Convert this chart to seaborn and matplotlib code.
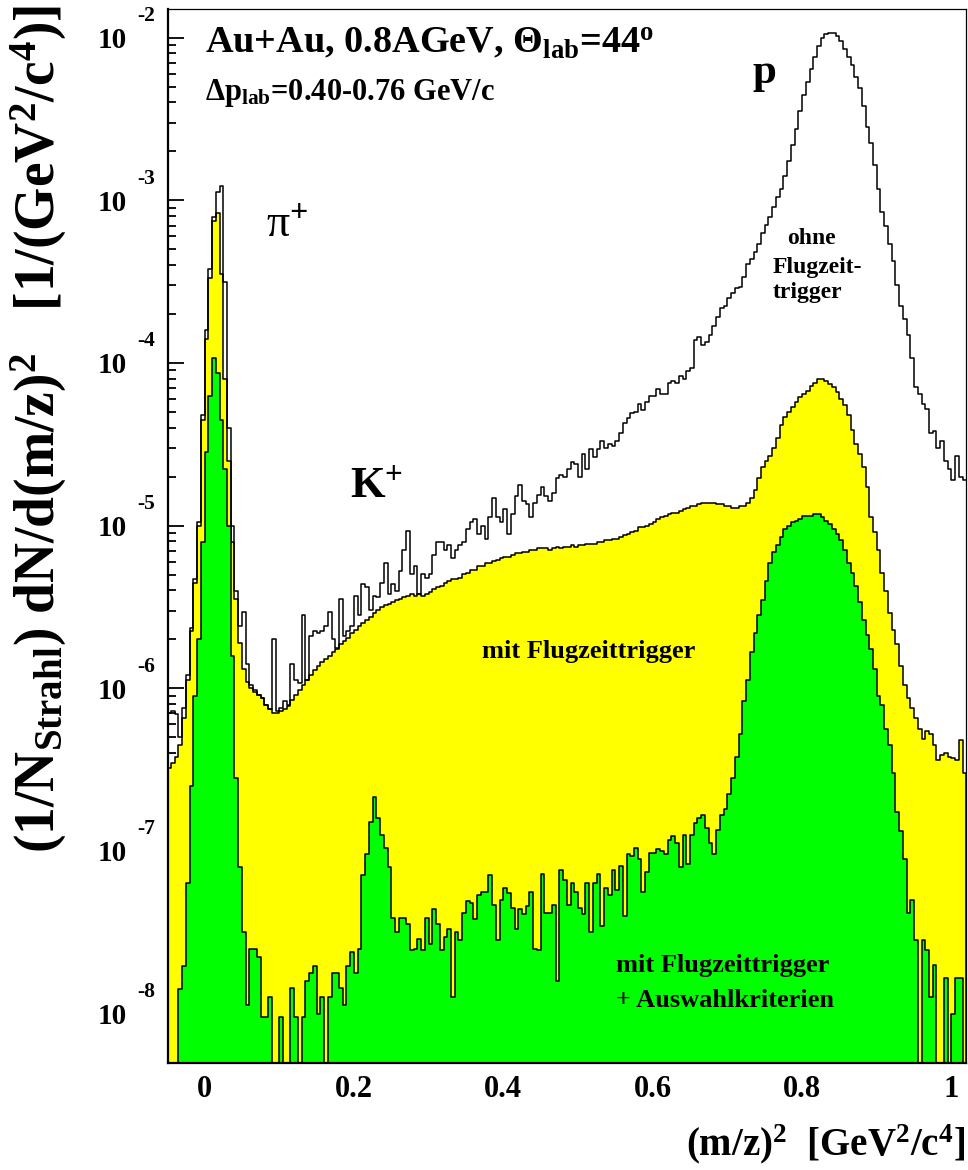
import numpy as np
import pandas as pd
import matplotlib
matplotlib.use("Agg")
import matplotlib.pyplot as plt
import seaborn as sns
from matplotlib.ticker import FixedLocator, FixedFormatter, LogLocator, NullFormatter, MultipleLocator

# ---------------- data (log10 of 1/N dN/d(m/z)^2 per bin) ----------------
bin_width = 0.005
x_first_edge = -0.05

# "ohne Flugzeittrigger" (white, outline only)
log_ohne = [
    -6.15, -6.14, -6.16, -6.30, -6.12, -5.92, -5.63, -5.33, -4.98, -4.32, -3.80, -3.42, -3.10, -2.95, -2.91, -3.50, -4.40,
    -5.00, -5.40, -5.62, -5.53, -5.85, -5.98, -6.01, -6.04, -6.06, -6.10, -6.13, -5.70, -6.14,
    -6.12, -6.08, -6.10, -5.85, -5.95, -5.97, -5.55, -5.95, -5.68, -5.65, -5.66, -5.65, -5.62, -5.53, -5.70, -5.75,
    -5.45, -5.68, -5.65, -5.62, -5.43, -5.55, -5.36, -5.38, -5.52, -5.43, -5.44, -5.35, -5.23, -5.42, -5.36, -5.40, -5.28, -5.15, -5.03, -5.30,
    -5.25, -5.42, -5.30, -5.32, -5.30, -5.18, -5.10, -5.10, -5.15, -5.12, -5.20, -5.15, -5.12, -5.10,
    -5.02, -4.98, -4.96, -5.05, -5.00, -5.08, -4.95, -4.83, -4.95, -4.98, -4.90, -5.05, -4.93, -4.82, -4.75, -4.85, -4.87, -4.95, -4.86, -4.81,
    -4.76, -4.82, -4.85, -4.80, -4.71, -4.69, -4.70, -4.65, -4.61, -4.62, -4.70, -4.56, -4.65, -4.53, -4.58, -4.53, -4.48, -4.52, -4.50, -4.51,
    -4.48, -4.43, -4.37, -4.34, -4.31, -4.30, -4.25, -4.29, -4.24, -4.20, -4.20, -4.16, -4.19, -4.19, -4.12, -4.11, -4.12, -4.08, -4.10, -4.05,
    -4.03, -3.86, -3.84, -3.89, -3.87, -3.83, -3.77, -3.72, -3.66, -3.65, -3.60, -3.57, -3.54, -3.53, -3.47, -3.39, -3.36, -3.32, -3.27, -3.20,
    -3.15, -3.10, -3.04, -2.98, -2.93, -2.85, -2.76, -2.66, -2.56, -2.45, -2.35, -2.27, -2.19, -2.12, -2.05, -2.00, -1.98, -1.97, -1.97, -1.99,
    -2.02, -2.07, -2.12, -2.17, -2.24, -2.31, -2.42, -2.55, -2.65, -2.78, -2.93, -3.07, -3.16, -3.27, -3.37, -3.52, -3.65, -3.73, -3.83, -3.97,
    -4.15, -4.19, -4.25, -4.28, -4.43, -4.42, -4.52, -4.48, -4.60, -4.65, -4.72, -4.57, -4.70, -4.72,
]

# "mit Flugzeittrigger" (yellow)
log_mit = [
    -6.49, -6.46, -6.42, -6.35, -6.18, -5.95, -5.65, -5.35, -5.00, -4.35, -3.85, -3.48, -3.13, -3.08, -3.45, -4.10, -4.60,
    -5.10, -5.45, -5.72, -5.88, -5.96, -6.00, -6.02, -6.04, -6.06, -6.10, -6.13, -6.15, -6.15,
    -6.14, -6.13, -6.11, -6.07, -6.04, -6.01, -5.98, -5.95, -5.92, -5.89, -5.86, -5.84, -5.82, -5.80, -5.78, -5.76,
    -5.73, -5.71, -5.69, -5.66, -5.64, -5.62, -5.60, -5.58, -5.56, -5.54, -5.52, -5.50, -5.49, -5.48, -5.47, -5.46, -5.45, -5.44, -5.43, -5.42,
    -5.43, -5.42, -5.43, -5.42, -5.41, -5.39, -5.38, -5.37, -5.35, -5.34, -5.33, -5.33, -5.32, -5.30,
    -5.29, -5.27, -5.27, -5.25, -5.25, -5.23, -5.23, -5.22, -5.21, -5.20, -5.19, -5.19, -5.18, -5.17, -5.17, -5.16, -5.16, -5.15, -5.15, -5.14,
    -5.14, -5.14, -5.15, -5.14, -5.13, -5.14, -5.13, -5.13, -5.12, -5.13, -5.12, -5.12, -5.11, -5.11, -5.11, -5.10, -5.10, -5.09, -5.09, -5.08,
    -5.08, -5.07, -5.06, -5.05, -5.04, -5.03, -5.01, -5.01, -5.00, -4.99, -4.98, -4.96, -4.95, -4.94, -4.93, -4.92, -4.92, -4.91, -4.90, -4.89,
    -4.88, -4.88, -4.87, -4.86, -4.86, -4.86, -4.86, -4.87, -4.87, -4.88, -4.88, -4.89, -4.89, -4.88, -4.88, -4.86, -4.83, -4.78, -4.71, -4.64,
    -4.60, -4.57, -4.52, -4.46, -4.38, -4.33, -4.30, -4.27, -4.24, -4.21, -4.19, -4.17, -4.14, -4.12, -4.10, -4.10, -4.11, -4.13, -4.15, -4.18,
    -4.22, -4.26, -4.32, -4.41, -4.50, -4.56, -4.64, -4.76, -4.95, -5.04, -5.15, -5.29, -5.40, -5.54, -5.64, -5.73, -5.86, -5.98, -6.06, -6.12,
    -6.18, -6.25, -6.31, -6.26, -6.28, -6.35, -6.44, -6.41, -6.40, -6.42, -6.43, -6.44, -6.32, -6.52,
]

# "mit Flugzeittrigger + Auswahlkriterien" (green); -9 = empty bin
log_auswahl = [
    -9.0, -9.0, -9.0, -7.85, -7.71, -7.20, -6.60, -6.05, -5.70, -5.10, -4.55, -4.20, -3.97, -4.06, -4.35, -4.65, -5.00, -5.80, -6.55, -7.10, -7.50,
    -7.95, -7.60, -7.60, -7.65, -8.02, -8.02, -7.90, -9.0, -9.0, -8.02, -9.0, -9.0, -7.84, -8.02, -9.0, -8.02, -7.80, -7.75, -7.71, -8.00,
    -7.90, -9.0, -7.90, -7.75, -7.75, -7.84, -7.95, -7.71, -7.62, -7.75, -7.60, -7.15, -7.02, -6.82, -6.67, -6.80, -6.90, -6.98, -7.10, -7.41,
    -7.50, -7.41, -7.41, -7.45, -7.61, -7.60, -7.54, -7.61, -7.41, -7.57, -7.36, -7.45, -7.61, -7.53, -7.48, -7.90, -7.50, -7.55, -7.38, -7.31,
    -7.32, -7.42, -7.27, -7.25, -7.25, -7.15, -7.33, -7.55, -7.30, -7.23, -7.26, -7.35, -7.48, -7.36, -7.39, -7.34, -7.25, -7.60, -7.61, -7.14,
    -7.38, -7.38, -7.33, -7.80, -7.12, -7.18, -7.33, -7.20, -7.25, -7.35, -7.39, -7.20, -7.50, -7.20, -7.14, -7.46, -7.23, -7.27, -7.12, -7.24,
    -7.09, -7.40, -7.02, -7.03, -6.98, -7.05, -7.25, -7.13, -7.01, -7.01, -6.99, -7.00, -7.02, -6.93, -6.91, -6.95, -7.10, -6.90, -7.08, -6.90,
    -6.83, -6.80, -6.78, -6.86, -6.95, -7.02, -6.87, -6.78, -6.74, -6.65, -6.55, -6.42, -6.28, -6.08, -5.95, -5.78, -5.66, -5.55, -5.46, -5.34,
    -5.23, -5.16, -5.12, -5.07, -5.02, -5.00, -4.98, -4.97, -4.96, -4.94, -4.94, -4.94, -4.93, -4.93, -4.95, -4.97, -4.99, -5.02, -5.05, -5.09,
    -5.15, -5.23, -5.29, -5.37, -5.47, -5.58, -5.67, -5.76, -5.88, -6.05, -6.10, -6.25, -6.35, -6.52, -6.76, -6.88, -7.05, -7.38, -7.30, -7.55,
    -9.0, -7.55, -7.61, -7.90, -7.70, -9.0, -9.0, -7.78, -9.0, -8.00, -7.78, -7.78, -9.0,
]

xtick_values = [0.0, 0.2, 0.4, 0.6, 0.8, 1.0]
xtick_labels = ["0", "0.2", "0.4", "0.6", "0.8", "1"]
ytick_exponents = [-8, -7, -6, -5, -4, -3, -2]
ytick_base_labels = ["10"] * len(ytick_exponents)
ytick_exp_labels = ["-8", "-7", "-6", "-5", "-4", "-3", "-2"]

assert len(log_ohne) == len(log_mit) == len(log_auswahl) == 214

edges = x_first_edge + bin_width * np.arange(len(log_mit) + 1)
bin_edges = [float(v) for v in edges]
centers = edges[:-1] + bin_width / 2
df = pd.DataFrame({
    "m2": centers,
    "ohne": 10.0 ** np.array(log_ohne),
    "mit": 10.0 ** np.array(log_mit),
    "auswahl": 10.0 ** np.array(log_auswahl),
})

# ---------------- style ----------------
sns.set_theme(style="white", rc={
    "axes.edgecolor": "black", "text.color": "black", "xtick.color": "black",
    "ytick.color": "black", "axes.labelcolor": "black",
})
plt.rcParams["font.family"] = ["Liberation Serif", "DejaVu Serif"]
plt.rcParams["font.weight"] = "bold"
plt.rcParams["mathtext.fontset"] = "custom"
plt.rcParams["mathtext.rm"] = "Liberation Serif:bold"
plt.rcParams["mathtext.bf"] = "Liberation Serif:bold"
plt.rcParams["mathtext.it"] = "Liberation Serif:italic:bold"
plt.rcParams["mathtext.default"] = "rm"

fig = plt.figure(figsize=(9.68, 11.70), dpi=100)
ax = fig.add_axes([0.1736, 0.0915, 0.8244, 0.9006])

sns.histplot(data=df, x="m2", weights="mit", bins=bin_edges, element="step",
             fill=True, color="#ffff00", edgecolor="black", linewidth=1.1, alpha=1, ax=ax)
sns.histplot(data=df, x="m2", weights="auswahl", bins=bin_edges, element="step",
             fill=True, color="#00ff00", edgecolor="black", linewidth=1.1, alpha=1, ax=ax)
sns.histplot(data=df, x="m2", weights="ohne", bins=bin_edges, element="step",
             fill=False, color="black", linewidth=1.1, ax=ax)

ax.set_yscale("log")
ax.set_xlim(-0.0489, 1.0196)
ax.set_ylim(4.97e-9, 1.496e-2)
ax.set_xlabel("")
ax.set_ylabel("")

# ticks
ax.xaxis.set_major_locator(FixedLocator(xtick_values))
ax.xaxis.set_major_formatter(FixedFormatter(xtick_labels))
ax.xaxis.set_minor_locator(MultipleLocator(0.05))
ax.yaxis.set_major_locator(FixedLocator([10.0 ** e for e in ytick_exponents]))
ax.yaxis.set_major_formatter(FixedFormatter(ytick_base_labels))
ax.yaxis.set_minor_locator(LogLocator(base=10, subs=np.arange(2, 10)))
ax.yaxis.set_minor_formatter(NullFormatter())
ax.tick_params(which="both", direction="in", top=False, right=False, bottom=True, left=True)
ax.tick_params(which="major", length=11.5, width=1.3)
ax.tick_params(which="minor", length=6, width=1.3)
ax.tick_params(axis="y", which="major", pad=30, labelsize=21)
ax.tick_params(axis="x", which="major", pad=9, labelsize=22)
for lab in ax.get_xticklabels() + ax.get_yticklabels():
    lab.set_fontweight("bold")

for e, lab in zip(ytick_exponents, ytick_exp_labels):
    ax.annotate(lab, xy=(0, 10.0 ** e), xycoords=("axes fraction", "data"),
                xytext=(-22, 15.5), textcoords="offset points", ha="left", va="center",
                fontsize=15.5, fontweight="bold", annotation_clip=False)

for side in ["left", "bottom"]:
    ax.spines[side].set_linewidth(1.6)
for side in ["top", "right"]:
    ax.spines[side].set_linewidth(0.9)
for s in ax.spines.values():
    s.set_color("black")

# annotations
ax.text(0.0464, 0.9585, r"Au+Au, 0.8AGeV, Θ$_{lab}$=44$^{o}$", transform=ax.transAxes,
        fontsize=27.5, ha="left", va="baseline", fontweight="bold")
ax.text(0.0464, 0.914, r"Δp$_{lab}$=0.40-0.76 GeV/c", transform=ax.transAxes,
        fontsize=22, ha="left", va="baseline", fontweight="bold")
ax.text(0.732, 0.930, "p", transform=ax.transAxes, fontsize=31, ha="left", va="baseline",
        fontweight="bold")
ax.text(0.1228, 0.784, r"π$^{+}$", transform=ax.transAxes, fontsize=33, ha="left",
        va="baseline", fontweight="normal")
ax.text(0.228, 0.537, r"K$^{+}$", transform=ax.transAxes, fontsize=32, ha="left",
        va="baseline", fontweight="bold")
ax.text(0.7757, 0.7773, "ohne", transform=ax.transAxes, fontsize=17, ha="left", va="baseline",
        fontweight="bold")
ax.text(0.758, 0.7497, "Flugzeit-", transform=ax.transAxes, fontsize=17, ha="left",
        va="baseline", fontweight="bold")
ax.text(0.758, 0.726, "trigger", transform=ax.transAxes, fontsize=17, ha="left",
        va="baseline", fontweight="bold")
ax.text(0.393, 0.3844, "mit Flugzeittrigger", transform=ax.transAxes, fontsize=19,
        ha="left", va="baseline", fontweight="bold")
ax.text(0.5614, 0.0864, "mit Flugzeittrigger", transform=ax.transAxes, fontsize=19,
        ha="left", va="baseline", fontweight="bold")
ax.text(0.5614, 0.0531, "+ Auswahlkriterien", transform=ax.transAxes, fontsize=19,
        ha="left", va="baseline", fontweight="bold")

fig.text(0.997, 0.0128, r"(m/z)$^{2}$  [GeV$^{2}$/c$^{4}$]", ha="right", va="baseline",
         fontsize=28, fontweight="bold")
fig.text(0.040, 0.9957, r"(1/N$_{Strahl}$) dN/d(m/z)$^{2}$   [1/(GeV$^{2}$/c$^{4}$)]",
         rotation=90, ha="center", va="top", fontsize=40, fontweight="bold")

fig.savefig("out.png", dpi=100)
